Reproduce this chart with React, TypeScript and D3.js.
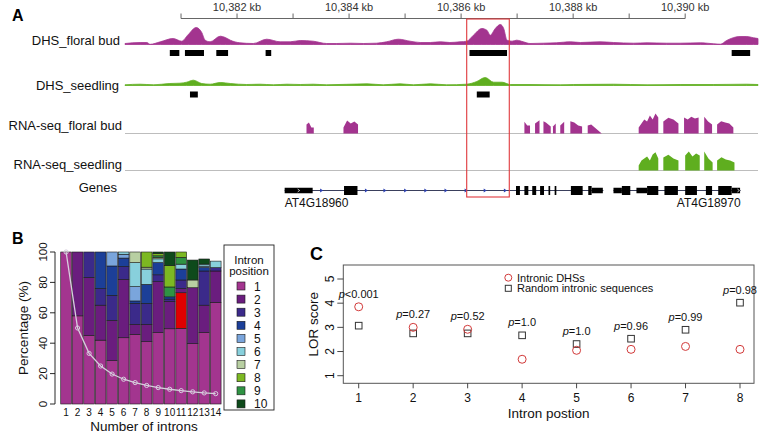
import React from "react";
import * as d3 from "d3";

const FONT = "'Liberation Sans', Arial, Helvetica, sans-serif";

// ---------------- Panel A data ----------------
const REGION_START_KB = 10380;
const REGION_END_KB = 10391.3;
const axisTicksKb = [10381, 10382, 10383, 10384, 10385, 10386, 10387, 10388, 10389, 10390];
const axisLabelKb = [10382, 10384, 10386, 10388, 10390];

// [kb from region start, signal]
const dhsFloral: [number, number][] = [
  [0.0, 1], [0.27, 2], [0.39, 2], [0.45, 0.2], [0.63, 2.7], [0.86, 6], [1.01, 3.3], [1.13, 10],
  [1.27, 17], [1.37, 12], [1.43, 4.3], [1.52, 2.7], [1.7, 8.3], [1.79, 7], [1.88, 4.3], [2.05, 1.7],
  [2.29, 1], [2.53, 5.3], [2.77, 2.7], [2.95, 2.7], [3.13, 4], [3.36, 3.3], [3.6, 1], [3.78, 1],
  [4.02, 1.3], [4.26, 1], [4.49, 1.3], [4.67, 2.7], [4.88, 5.3], [5.09, 3.3], [5.27, 2], [5.45, 2],
  [5.63, 2.7], [5.8, 2], [5.98, 2.7], [6.1, 3.3], [6.22, 9.3], [6.37, 16], [6.46, 14.3], [6.52, 9.3],
  [6.61, 16], [6.7, 20], [6.76, 16], [6.82, 4.3], [6.91, 3.3], [6.99, 4.3], [7.11, 2.7], [7.23, 1],
  [7.47, 1.3], [7.7, 1.7], [7.95, 2.7], [8.13, 2], [8.48, 2.7], [8.72, 2], [9.08, 1.3], [9.32, 1.7],
  [9.67, 1.3], [9.91, 1.3], [10.27, 1.7], [10.51, 0.7], [10.63, 0.3], [10.74, 4], [10.98, 8],
  [11.1, 8], [11.22, 6.7], [11.3, 6],
];
const dhsSeedling: [number, number][] = [
  [0.0, 0.7], [0.27, 1.3], [0.51, 0.7], [0.8, 2], [0.98, 2.3], [1.1, 3.3], [1.22, 5.3], [1.37, 2],
  [1.52, 1.3], [1.7, 3], [1.88, 2], [2.17, 1], [2.41, 1.3], [2.65, 0.7], [2.89, 1.3], [3.13, 1],
  [3.36, 1.3], [3.6, 0.7], [4.32, 1.7], [4.61, 0.7], [4.91, 1.7], [5.15, 0.7], [5.45, 1.7],
  [5.74, 0.7], [6.1, 1.3], [6.28, 4], [6.43, 8], [6.58, 3.3], [6.73, 3.3], [6.88, 1], [7.23, 1],
  [7.77, 0.7], [8.01, 1], [8.72, 1.3], [9.32, 0.7], [9.91, 1], [10.51, 1], [11.1, 1.3], [11.3, 1],
];
// DHS calls [start, end]
const dhsFloralCalls: [number, number][] = [
  [0.8, 0.97], [1.07, 1.41], [1.63, 1.84], [2.51, 2.61], [6.15, 6.82], [10.83, 11.16],
];
const dhsSeedlingCalls: [number, number][] = [[1.16, 1.3], [6.28, 6.51]];

// RNA-seq coverage blocks [start, end, profile]
const rnaFloral: [number, number, number[]][] = [
  [3.24, 3.37, [9, 11, 6, 6]],
  [3.9, 4.16, [6, 13, 10, 12, 9]],
  [7.13, 7.23, [11.7, 8, 8]],
  [7.32, 7.4, [10, 13.3]],
  [7.47, 7.6, [12.3, 11, 9, 7]],
  [7.64, 7.69, [7, 10]],
  [7.77, 7.84, [8, 11.7]],
  [7.95, 8.16, [12.3, 11, 8, 7]],
  [8.26, 8.51, [8, 9, 6, 3, 0]],
  [9.17, 9.52, [6, 10, 14, 12, 18, 14, 20, 16]],
  [9.61, 9.88, [12, 15.7, 14, 10]],
  [9.98, 10.24, [16, 14, 16.7, 15, 16]],
  [10.34, 10.48, [16.7, 12, 9]],
  [10.57, 10.86, [9, 12.3, 11, 10, 6]],
];
const rnaSeedling: [number, number, number[]][] = [
  [9.17, 9.52, [5, 10, 12, 14, 10, 16, 18.3, 12]],
  [9.61, 9.88, [13, 15.7, 12, 10]],
  [10.0, 10.26, [15, 19, 14, 17, 15]],
  [10.34, 10.49, [19, 12, 8]],
  [10.57, 10.88, [10, 13.3, 11, 10, 8]],
];

// Genes
const geneNames = ["AT4G18960", "AT4G18970"];
const geneSpans: [number, number][] = [[2.85, 8.54], [8.72, 10.99]];
// [start, end, thick(1)/thin(0)]
const geneExons: [number, number, number][] = [
  [2.85, 3.35, 0], [3.91, 4.15, 1], [6.98, 7.05, 1], [7.13, 7.2, 1], [7.27, 7.34, 1],
  [7.41, 7.48, 1], [7.56, 7.59, 1], [7.67, 7.7, 1], [7.96, 8.17, 1], [8.27, 8.33, 1], [8.33, 8.53, 0],
  [8.72, 8.87, 0], [8.87, 9.02, 1], [9.13, 9.32, 0], [9.32, 9.52, 1], [9.63, 9.87, 1],
  [10.0, 10.21, 1], [10.37, 10.48, 1], [10.59, 10.83, 1], [10.83, 10.98, 0],
];
const intronArrows = [3.51, 4.31, 4.64, 5.01, 5.37, 5.73, 6.09, 6.43, 6.79];
const highlightKb: [number, number] = [6.1, 6.86];

// ---------------- Panel B data ----------------
const intronCounts = [1, 2, 3, 4, 5, 6, 7, 8, 9, 10, 11, 12, 13, 14];
const pos1 = [100, 58, 45, 42, 28.5, 43.6, 45.8, 41, 47, 49.5, 49.8, 39.7, 47, 66.9];
const pos2 = [0, 42, 38.3, 23, 26.5, 38.4, 6.6, 11.4, 33.5, 18, 2.8, 36.8, 18, 20.6];
const pos3 = [0, 0, 16.7, 11, 16.5, 8.5, 13.8, 13.8, 4.5, 1.5, 5.6, 0, 22.5, 2.2];
const pos4 = [0, 0, 0, 24, 19.3, 5.5, 1.6, 12.5, 8, 1.5, 7.2, 0, 2.2, 0];
const pos5 = [0, 0, 0, 0, 9.2, 2.5, 9.4, 0, 0, 0, 0, 0, 1, 0];
const pos6 = [0, 0, 0, 0, 0, 1.5, 15.8, 10.1, 2.5, 0, 3.2, 0, 1.3, 4.3];
const pos7 = [0, 0, 0, 0, 0, 0, 7, 1.2, 1, 0, 0, 5.1, 0, 0];
const pos8 = [0, 0, 0, 0, 0, 0, 0, 10, 1.5, 14, 3.5, 0, 0, 0];
const pos9 = [0, 0, 0, 0, 0, 0, 0, 0, 1, 6.5, 4.5, 0, 0, 0];
const pos10 = [0, 0, 0, 0, 0, 0, 0, 0, 1, 9, 0, 13.1, 3.4, 0];
const pos11 = [0, 0, 0, 0, 0, 0, 0, 0, 0, 0, 23.4, 0, 0, 0];
const expectedShare = [100, 50, 33.3, 25, 19.7, 16.3, 14.1, 12.2, 10.8, 9.7, 8.8, 8, 7.3, 6.8];
const stackOrder = ["1", "11", "2", "3", "4", "5", "6", "7", "9", "8", "10"];
const legendPositions = ["1", "2", "3", "4", "5", "6", "7", "8", "9", "10"];
const posColors: Record<string, string> = {
  "1": "#a3358f", "2": "#6a1d7e", "3": "#3b2a8a", "4": "#1c3f98", "5": "#7aa5dc",
  "6": "#88d0dc", "7": "#b8cfa2", "8": "#7cb822", "9": "#2f9343", "10": "#0e4a1b", "11": "#e00000",
};
const yTicksB = [0, 20, 40, 60, 80, 100];

// ---------------- Panel C data ----------------
const intronPositions = [1, 2, 3, 4, 5, 6, 7, 8];
const lorDHS = [3.85, 3.0, 2.92, 1.68, 2.05, 2.09, 2.21, 2.09];
const lorRandom = [3.07, 2.75, 2.75, 2.67, 2.31, 2.53, 2.9, 4.02];
const pLabels = ["<0.001", "=0.27", "=0.52", "=1.0", "=1.0", "=0.96", "=0.99", "=0.98"];
const yTicksC = [1, 2, 3, 4, 5];

const PURPLE = "#a3348f";
const GREEN = "#5fae1f";

function PanelA() {
  const x = d3.scaleLinear().domain([0, REGION_END_KB - REGION_START_KB]).range([125, 758]);
  const fmt = d3.format(",");
  const track = (base: number, max: number, px: number) =>
    d3.scaleLinear().domain([0, max]).range([base, base - px]);
  const yFl = track(44.5, 20, 20);
  const ySe = track(85.5, 20, 20);
  const areaFl = d3.area<[number, number]>().x(d => x(d[0])).y0(44.5).y1(d => yFl(d[1])).curve(d3.curveMonotoneX);
  const areaSe = d3.area<[number, number]>().x(d => x(d[0])).y0(85.5).y1(d => ySe(d[1])).curve(d3.curveMonotoneX);

  const rnaPath = (blocks: [number, number, number[]][], base: number) => {
    const y = track(base, 20, 20);
    const a = d3.area<[number, number]>().x(d => x(d[0])).y0(base).y1(d => y(d[1]));
    return blocks.map((b, i) => {
      const [s, e, prof] = b;
      const n = prof.length;
      const pts: [number, number][] = prof.map((v, j) => [s + (n === 1 ? 0 : (j * (e - s)) / (n - 1)), v]);
      return <path key={i} d={a(pts) || ""} fill={base < 150 ? PURPLE : GREEN} />;
    });
  };

  const geneY = 190.5;
  const labelStyle = { fontFamily: FONT, fontSize: 13, fill: "#111" };
  return (
    <g>
      <text x={12} y={21} style={{ fontFamily: FONT, fontSize: 16, fontWeight: "bold" }}>A</text>
      {/* top axis */}
      <line x1={x(axisTicksKb[0] - REGION_START_KB)} x2={x(axisTicksKb[axisTicksKb.length - 1] - REGION_START_KB)} y1={18.5} y2={18.5} stroke="#666" strokeWidth={1} />
      {axisTicksKb.map(k => (
        <line key={k} x1={x(k - REGION_START_KB)} x2={x(k - REGION_START_KB)} y1={13.5} y2={18.5} stroke="#666" strokeWidth={1} />
      ))}
      {axisLabelKb.map(k => (
        <text key={k} x={x(k - REGION_START_KB)} y={11} textAnchor="middle" style={{ fontFamily: FONT, fontSize: 11, fill: "#333" }}>
          {fmt(k)} kb
        </text>
      ))}
      {/* track labels */}
      <text x={120} y={45} textAnchor="end" style={labelStyle}>DHS_floral bud</text>
      <text x={119} y={89.5} textAnchor="end" style={labelStyle}>DHS_seedling</text>
      <text x={122} y={130} textAnchor="end" style={labelStyle}>RNA-seq_floral bud</text>
      <text x={122} y={168.5} textAnchor="end" style={labelStyle}>RNA-seq_seedling</text>
      <text x={117} y={192} textAnchor="end" style={labelStyle}>Genes</text>

      {/* DHS tracks */}
      <path d={areaFl(dhsFloral) || ""} fill={PURPLE} stroke={PURPLE} strokeWidth={0.8} />
      <path d={areaSe(dhsSeedling) || ""} fill={GREEN} stroke={GREEN} strokeWidth={0.8} />
      {dhsFloralCalls.map((c, i) => (
        <rect key={i} x={x(c[0])} y={50} width={x(c[1]) - x(c[0])} height={6} fill="#000" />
      ))}
      {dhsSeedlingCalls.map((c, i) => (
        <rect key={i} x={x(c[0])} y={91.5} width={x(c[1]) - x(c[0])} height={6} fill="#000" />
      ))}

      {/* RNA-seq tracks */}
      <line x1={125} x2={758} y1={133.5} y2={133.5} stroke="#bdbdbd" strokeWidth={1} />
      <line x1={125} x2={758} y1={170.5} y2={170.5} stroke="#bdbdbd" strokeWidth={1} />
      {rnaPath(rnaFloral, 133.5)}
      {rnaPath(rnaSeedling, 170.5)}

      {/* genes */}
      {geneSpans.map((g, i) => (
        <line key={i} x1={x(g[0])} x2={x(g[1])} y1={geneY} y2={geneY} stroke="#3a3f5c" strokeWidth={1.2} />
      ))}
      {intronArrows.map((a, i) => (
        <path key={i} d={`M${x(a) - 1.5},${geneY - 2}L${x(a) + 1.5},${geneY}L${x(a) - 1.5},${geneY + 2}Z`} fill="#2a3fb0" />
      ))}
      {geneExons.map((e, i) => {
        const h = e[2] ? 9 : 5.5;
        return <rect key={i} x={x(e[0])} y={geneY - h / 2} width={x(e[1]) - x(e[0])} height={h} fill="#000" />;
      })}
      <path d={`M${x(3.1) - 1},${geneY - 1.5}L${x(3.1) + 1},${geneY}L${x(3.1) - 1},${geneY + 1.5}`} stroke="#fff" strokeWidth={0.7} fill="none" />
      <path d={`M${x(10.95) - 1},${geneY - 1.5}L${x(10.95) + 1},${geneY}L${x(10.95) - 1},${geneY + 1.5}`} stroke="#fff" strokeWidth={0.7} fill="none" />
      <text x={x(geneSpans[0][0])} y={207} style={{ fontFamily: FONT, fontSize: 12, fill: "#111" }}>{geneNames[0]}</text>
      <text x={x(geneSpans[1][1])} y={207} textAnchor="end" style={{ fontFamily: FONT, fontSize: 12, fill: "#111" }}>{geneNames[1]}</text>

      {/* highlight */}
      <rect x={x(highlightKb[0])} y={19} width={x(highlightKb[1]) - x(highlightKb[0])} height={178} fill="none" stroke="#e0383c" strokeWidth={1.1} />
    </g>
  );
}

function PanelB() {
  const x = d3.scaleBand<number>().domain(intronCounts).range([60.5, 221.3]).paddingInner(0.07).paddingOuter(0.02);
  const y = d3.scaleLinear().domain([0, 100]).range([404, 252]);
  const series: Record<string, number[]> = {
    "1": pos1, "2": pos2, "3": pos3, "4": pos4, "5": pos5, "6": pos6,
    "7": pos7, "8": pos8, "9": pos9, "10": pos10, "11": pos11,
  };
  const rows = intronCounts.map((n, i) => {
    const r: Record<string, number> = { n };
    for (const k of stackOrder) r[k] = series[k][i];
    return r;
  });
  const stacked = d3.stack<Record<string, number>>().keys(stackOrder)(rows);
  const line = d3.line<number>().x((_, i) => (x(intronCounts[i]) || 0) + x.bandwidth() / 2).y(v => y(v));
  const tickFont = { fontFamily: FONT, fontSize: 11.5, fill: "#111" };
  return (
    <g>
      <text x={12} y={244} style={{ fontFamily: FONT, fontSize: 16, fontWeight: "bold" }}>B</text>
      {stacked.map(s =>
        s.map((d, i) =>
          d[1] - d[0] > 0 ? (
            <rect key={s.key + "-" + i} x={x(intronCounts[i])} y={y(d[1])} width={x.bandwidth()} height={y(d[0]) - y(d[1])}
              fill={posColors[s.key]} stroke="#1a1a1a" strokeWidth={0.6} />
          ) : null
        )
      )}
      <path d={line(expectedShare) || ""} fill="none" stroke="#d6cedd" strokeWidth={1.3} />
      {expectedShare.map((v, i) => (
        <circle key={i} cx={(x(intronCounts[i]) || 0) + x.bandwidth() / 2} cy={y(v)} r={2.1} fill="none" stroke="#d6cedd" strokeWidth={1} />
      ))}
      {/* y axis */}
      <line x1={55} x2={55} y1={y(0)} y2={y(100)} stroke="#111" strokeWidth={0.9} />
      {yTicksB.map(t => (
        <g key={t}>
          <line x1={50} x2={55} y1={y(t)} y2={y(t)} stroke="#111" strokeWidth={0.9} />
          <text transform={`translate(47,${y(t)}) rotate(-90)`} textAnchor="middle" style={tickFont}>{t}</text>
        </g>
      ))}
      <text transform={`translate(28,${(y(0) + y(100)) / 2}) rotate(-90)`} textAnchor="middle" style={{ fontFamily: FONT, fontSize: 13.5, fill: "#111" }}>
        Percentage (%)
      </text>
      {intronCounts.map(n => (
        <text key={n} x={(x(n) || 0) + x.bandwidth() / 2} y={416} textAnchor="middle" style={{ fontFamily: FONT, fontSize: 10, fill: "#111" }}>{n}</text>
      ))}
      <text x={144} y={431} textAnchor="middle" style={{ fontFamily: FONT, fontSize: 13.5, fill: "#111" }}>Number of introns</text>
      {/* legend */}
      <rect x={224} y={245} width={50} height={165} fill="#fff" stroke="#222" strokeWidth={0.9} />
      <text x={249} y={264} textAnchor="middle" style={tickFont}>Intron</text>
      <text x={249} y={275} textAnchor="middle" style={tickFont}>position</text>
      {legendPositions.map((p, i) => (
        <g key={p}>
          <rect x={237} y={282 + i * 13.1} width={8} height={8} fill={posColors[p]} stroke="#1a1a1a" strokeWidth={0.6} />
          <text x={254} y={290.5 + i * 13.1} style={{ fontFamily: FONT, fontSize: 12, fill: "#111" }}>{p}</text>
        </g>
      ))}
    </g>
  );
}

function PanelC() {
  const x = d3.scaleLinear().domain([1, 8]).range([358.7, 740]);
  const y = d3.scaleLinear().domain([1, 5]).range([375.7, 279]);
  const left = 343.3, right = 754, top = 265, bottom = 383.3;
  const tickFont = { fontFamily: FONT, fontSize: 12, fill: "#111" };
  return (
    <g>
      <text x={310} y={260} style={{ fontFamily: FONT, fontSize: 18, fontWeight: "bold" }}>C</text>
      <rect x={left} y={top} width={right - left} height={bottom - top} fill="none" stroke="#555" strokeWidth={1} />
      {yTicksC.map(t => (
        <g key={t}>
          <line x1={left - 6} x2={left} y1={y(t)} y2={y(t)} stroke="#333" strokeWidth={0.9} />
          <text transform={`translate(334,${y(t)}) rotate(-90)`} textAnchor="middle" style={tickFont}>{t}</text>
        </g>
      ))}
      {intronPositions.map(p => (
        <g key={p}>
          <line x1={x(p)} x2={x(p)} y1={bottom} y2={bottom + 5} stroke="#333" strokeWidth={0.9} />
          <text x={x(p)} y={402} textAnchor="middle" style={tickFont}>{p}</text>
        </g>
      ))}
      <text transform={`translate(318,${(top + bottom) / 2}) rotate(-90)`} textAnchor="middle" style={{ fontFamily: FONT, fontSize: 13.5, fill: "#111" }}>
        LOR score
      </text>
      <text x={(left + right) / 2} y={418} textAnchor="middle" style={{ fontFamily: FONT, fontSize: 13.5, fill: "#111" }}>Intron postion</text>
      {lorRandom.map((v, i) => (
        <rect key={"s" + i} x={x(intronPositions[i]) - 3.3} y={y(v) - 3.3} width={6.6} height={6.6} fill="none" stroke="#333" strokeWidth={1} />
      ))}
      {lorDHS.map((v, i) => (
        <circle key={"c" + i} cx={x(intronPositions[i])} cy={y(v)} r={4} fill="none" stroke="#d23a3a" strokeWidth={1} />
      ))}
      {pLabels.map((lab, i) => {
        const top2 = Math.max(lorDHS[i], lorRandom[i]);
        return (
          <text key={"p" + i} x={x(intronPositions[i])} y={y(top2) - 9} textAnchor="middle" style={{ fontFamily: FONT, fontSize: 11, fill: "#111" }}>
            <tspan fontStyle="italic">p</tspan>{lab}
          </text>
        );
      })}
      {/* legend */}
      <circle cx={508.3} cy={277.7} r={3.5} fill="none" stroke="#d23a3a" strokeWidth={1} />
      <text x={517} y={281.5} style={{ fontFamily: FONT, fontSize: 11, fill: "#111" }}>Intronic DHSs</text>
      <rect x={505.3} y={285.3} width={6} height={6} fill="none" stroke="#333" strokeWidth={1} />
      <text x={517} y={292.3} style={{ fontFamily: FONT, fontSize: 11, fill: "#111" }}>Random intronic sequences</text>
    </g>
  );
}

export default function App() {
  return (
    <div style={{ position: "absolute", left: 0, top: 0 }}>
      <svg width={760} height={435} viewBox="0 0 760 435" style={{ display: "block", background: "#fff" }}>
        <rect width={760} height={435} fill="#fff" />
        <PanelA />
        <PanelB />
        <PanelC />
      </svg>
    </div>
  );
}
